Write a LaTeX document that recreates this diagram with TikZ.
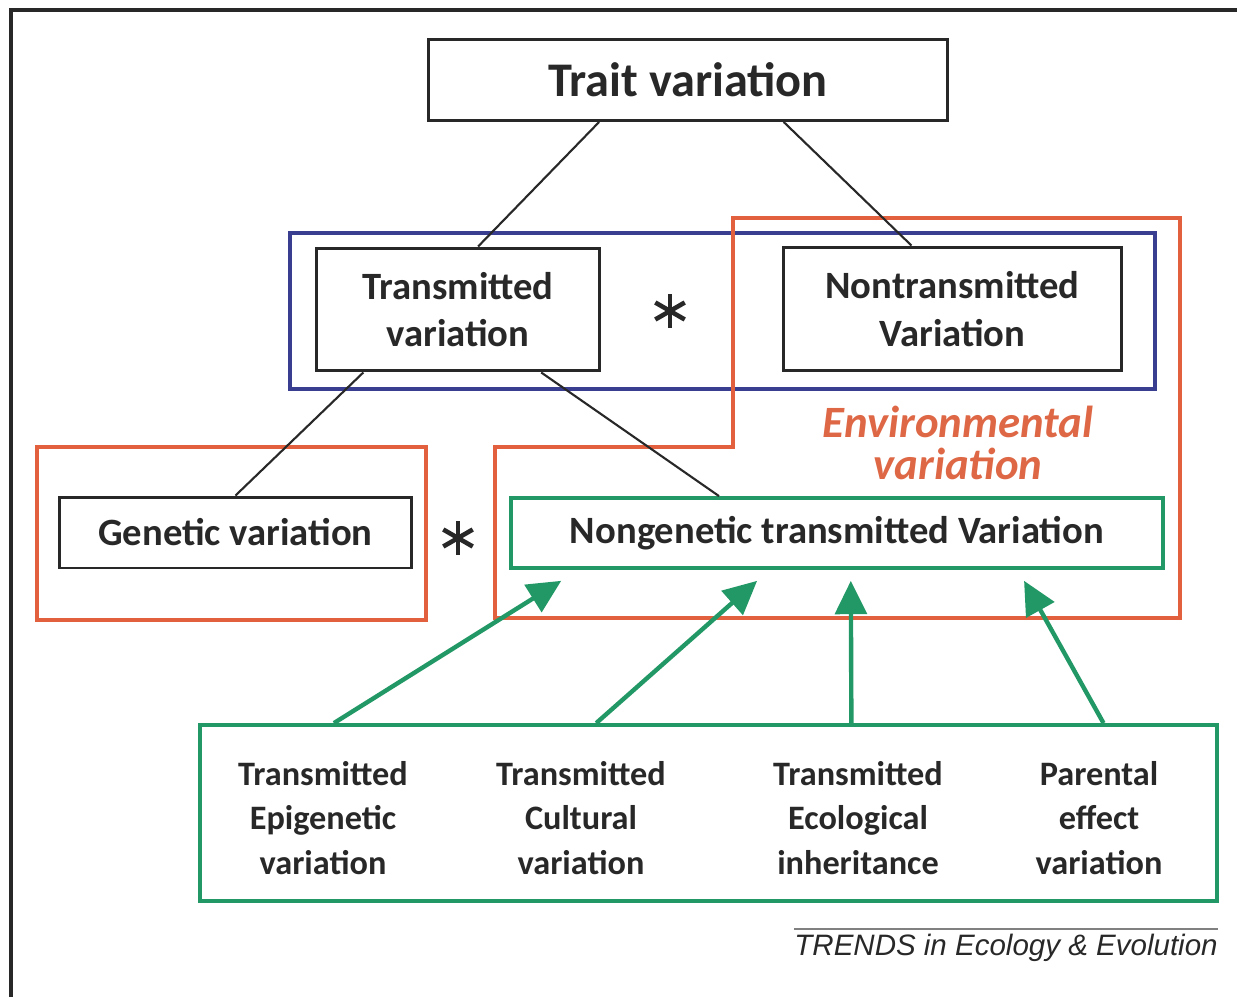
\documentclass[tikz,border=0pt]{standalone}
\usepackage{fontspec}
\setmainfont{Carlito}
\newfontfamily\trendsfont{Liberation Sans}
\usepackage{tikz}
\usetikzlibrary{calc, arrows.meta}
\definecolor{envOrange}{RGB}{226,96,62}
\definecolor{envText}{RGB}{222,104,70}
\definecolor{transBlue}{RGB}{58,62,145}
\definecolor{srcGreen}{RGB}{34,152,102}
\definecolor{boxGray}{RGB}{40,40,40}
\newcommand{\drawstar}[1]{%
  \foreach \ang in {90,30,150}
    \draw[boxGray, line width=2.6pt] ($(#1)+(\ang:0.34cm)$) -- ($(#1)+(\ang+180:0.34cm)$);}

\begin{document}
\begin{tikzpicture}[x=0.02cm, y=-0.02cm,
  varbox/.style={draw=boxGray, line width=1.7pt, align=center, inner sep=0pt,
    font=\fontsize{22}{27}\selectfont\bfseries, text=boxGray},
  srctext/.style={align=center, inner sep=0pt, text=boxGray,
    font=\fontsize{19.5}{25.2}\selectfont\bfseries},
  tree/.style={boxGray, line width=1.2pt},
  srcarrow/.style={srcGreen, line width=2.5pt, -{Triangle[length=19pt, width=18pt]}},
  region/.style={line width=2.2pt}]
  \useasboundingbox (0,0) rectangle (1237,997);
  \draw[line width=1.8pt, boxGray] (11,997) -- (11,10) -- (1237,10);

  % regions
  \draw[region, transBlue] (290,233) rectangle (1155,389);
  \draw[region, envOrange] (37,447) rectangle (426,620);
  \draw[region, envOrange] (733,218) -- (1180,218) -- (1180,618) -- (495,618)
    -- (495,447) -- (733,447) -- cycle;
  \node[envText, align=center, font=\fontsize{25.5}{24.4}\selectfont\bfseries\itshape]
    (envlabel) at (958,443) {Environmental\\variation};

  % variation boxes
  \node[varbox, minimum width=10.4cm, minimum height=1.62cm,
    font=\fontsize{27.5}{30}\selectfont\bfseries] (trait) at (688,80) {Trait variation};
  \node[varbox, minimum width=5.68cm, minimum height=2.46cm] (transm) at (458,309.5)
    {Transmitted\\variation};
  \node[varbox, minimum width=6.78cm, minimum height=2.48cm] (nontransm) at (952.5,309)
    {Nontransmitted\\Variation};
  \node[varbox, minimum width=7.06cm, minimum height=1.42cm] (genetic) at (235.5,532.5)
    {Genetic variation};
  \node[varbox, draw=srcGreen, line width=2.2pt, minimum width=13.04cm,
    minimum height=1.4cm] (nongen) at (837,533) {Nongenetic transmitted Variation};
  \coordinate (star1) at (670,311);
  \coordinate (star2) at (458,538);
  \drawstar{star1}
  \drawstar{star2}

  % sources
  \node[draw=srcGreen, line width=2.2pt, minimum width=20.34cm, minimum height=3.52cm]
    (sources) at (708.5,813) {};
  \node[srctext] (epi) at (323,818) {Transmitted\\Epigenetic\\variation};
  \node[srctext] (cult) at (581,818) {Transmitted\\Cultural\\variation};
  \node[srctext] (eco) at (858,818) {Transmitted\\Ecological\\inheritance};
  \node[srctext] (parent) at (1099,818) {Parental\\effect\\variation};

  % tree lines
  \draw[tree] ($(trait.south west)!0.33!(trait.south east)$)
    -- ($(transm.north west)!0.57!(transm.north east)$);
  \draw[tree] ($(trait.south west)!0.683!(trait.south east)$)
    -- ($(nontransm.north west)!0.38!(nontransm.north east)$);
  \draw[tree] ($(transm.south west)!0.17!(transm.south east)$) -- (genetic.north);
  \draw[tree] ($(transm.south west)!0.79!(transm.south east)$)
    -- ($(nongen.north west)!0.32!(nongen.north east)$);

  % arrows into nongenetic variation
  \draw[srcarrow, shorten >=11.7pt] ($(sources.north west)!0.133!(sources.north east)$)
    -- ($(nongen.south west)!0.106!(nongen.south east)$);
  \draw[srcarrow, shorten >=9.4pt] ($(sources.north west)!0.39!(sources.north east)$)
    -- ($(nongen.south west)!0.397!(nongen.south east)$);
  \draw[srcarrow, shorten >=6.2pt] ($(sources.north west)!0.64!(sources.north east)$)
    -- ($(nongen.south west)!0.521!(nongen.south east)$);
  \draw[srcarrow, shorten >=7.1pt] ($(sources.north west)!0.887!(sources.north east)$)
    -- ($(nongen.south west)!0.776!(nongen.south east)$);

  % footer
  \node[font=\trendsfont\fontsize{16.8}{18}\selectfont\itshape, text=boxGray,
    anchor=south east, inner sep=0pt] (journal) at (1218,962)
    {TRENDS in Ecology \& Evolution};
  \coordinate (ruleend) at (1218,929);
  \draw[gray, line width=1.3pt] (journal.west |- ruleend) -- (ruleend);
\end{tikzpicture}
\end{document}
